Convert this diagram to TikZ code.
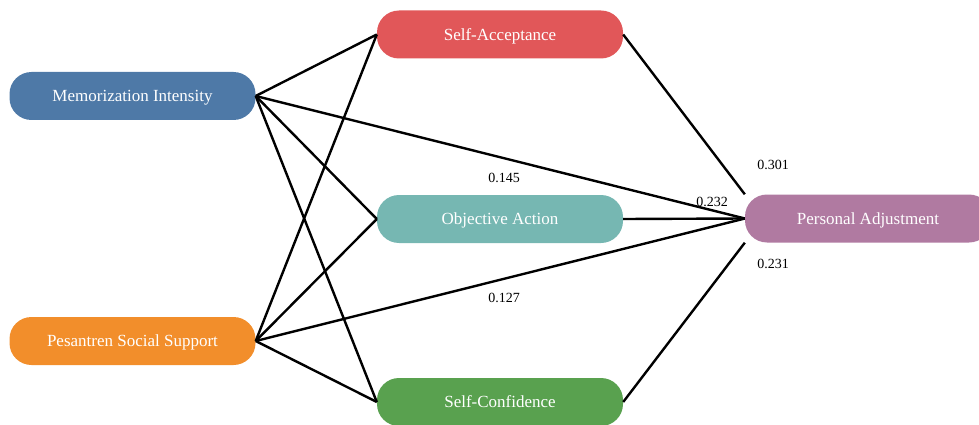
\documentclass[tikz,border=0pt]{standalone}
\usepackage{fontspec}
\setmainfont{Liberation Serif}
\definecolor{cblue}{HTML}{4E79A7}
\definecolor{cred}{HTML}{E15759}
\definecolor{cteal}{HTML}{76B7B2}
\definecolor{cgreen}{HTML}{59A14F}
\definecolor{corange}{HTML}{F28E2B}
\definecolor{cpurple}{HTML}{B07AA1}
\tikzset{
  var/.style={rectangle, rounded corners=22pt, minimum width=246pt, minimum height=48pt,
    inner sep=0pt, text=white, font=\fontsize{17}{20}\selectfont, text depth=0pt},
  link/.style={line width=2.4pt, black},
  coef/.style={font=\fontsize{14}{16}\selectfont, inner sep=0pt}
}
\begin{document}
\begin{tikzpicture}[x=1pt,y=-1pt]
\useasboundingbox (0,0) rectangle (979,425);
\begin{scope}
\clip (0,0) rectangle (979,425);
\node[var, fill=cblue] (mi) at (132.5,96) {Memorization Intensity};
\node[var, fill=corange] (ps) at (132.5,341) {Pesantren Social Support};
\node[var, fill=cred] (sa) at (500,34.5) {Self-Acceptance};
\node[var, fill=cteal] (oa) at (500,219) {Objective Action};
\node[var, fill=cgreen] (sc) at (500,402) {Self-Confidence};
\node[var, fill=cpurple] (pa) at (868,218.5) {Personal Adjustment};
\end{scope}
\draw[link] (mi.east) -- (sa.west);
\draw[link] (mi.east) -- (oa.west);
\draw[link] (mi.east) -- (sc.west);
\draw[link] (mi.east) -- (pa.west);
\draw[link] (ps.east) -- (sa.west);
\draw[link] (ps.east) -- (oa.west);
\draw[link] (ps.east) -- (sc.west);
\draw[link] (ps.east) -- (pa.west);
\draw[link] (sa.east) -- (pa.north west);
\draw[link] (oa.east) -- (pa.west);
\draw[link] (sc.east) -- (pa.south west);
\node[coef] (c1) at (773,165) {0.301};
\node[coef] (c2) at (712,202) {0.232};
\node[coef] (c3) at (504,178) {0.145};
\node[coef] (c4) at (504,298) {0.127};
\node[coef] (c5) at (773,264) {0.231};
\end{tikzpicture}
\end{document}
